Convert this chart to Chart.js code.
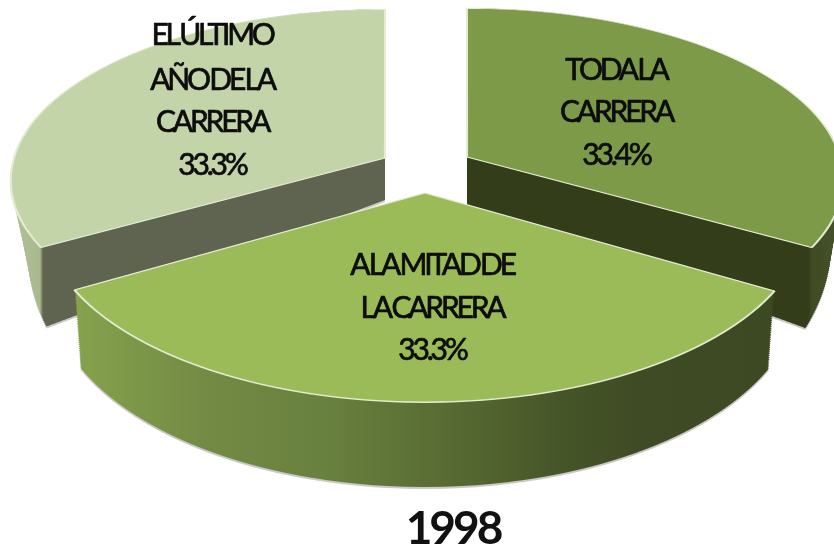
<!DOCTYPE html>
<html>
<head>
<meta charset="utf-8">
<script src="https://cdn.jsdelivr.net/npm/chart.js@4"></script>
<style>html,body{margin:0;padding:0;background:#fff}canvas{display:block}</style>
</head>
<body>
<canvas id="c" width="834" height="549"></canvas>
<script>
const CATEGORIES = ['TODA LA CARRERA', 'A LA MITAD DE LA CARRERA', 'EL ÚLTIMO AÑO DE LA CARRERA'];
const VALUES = [33.4, 33.3, 33.3];
const LABEL_LINES = [['TODA LA', 'CARRERA'], ['A LA MITAD DE', 'LA CARRERA'], ['EL ÚLTIMO', 'AÑO DE LA', 'CARRERA']];
const CHART_TITLE = '1998';
const FACE_COLORS = ['#7d9a49', '#9bbb59', '#c3d4a8'];

// Presentation only: perspective of each exploded slice (top face and floor of the 3D wedge)
const PLANES = [
  { top: { ox: 467, oy: 157, ax: 373, ay: 168, p: -0.13 }, floor: { ox: 467, oy: 205, ax: 359, ay: 224, p: -0.166 } },
  { top: { ox: 425, oy: 193, ax: 378, ay: 182, p: -0.13 }, floor: { ox: 425, oy: 264, ax: 372, ay: 194, p: -0.13 } },
  { top: { ox: 385, oy: 158, ax: 371, ay: 168, p: -0.13 }, floor: { ox: 385, oy: 200, ax: 349, ay: 227, p: -0.213 } }
];
const WALL_STOPS = [
  [[466, '#343d1a'], [809, '#343d1a'], [811, '#3f4a22'], [840, '#46522a']],
  [[70, '#87a34d'], [200, '#738b44'], [330, '#68803e'], [480, '#536530'], [560, '#465528'], [640, '#3f4b25'], [785, '#3d4923']],
  [[5, '#b4c39c'], [40, '#a9b98e'], [43, '#5f6450'], [390, '#5f6450']]
];
const LABEL_POS = [[616, [70, 112, 155]], [432, [265, 308, 350]], [212, [35, 80, 122, 165]]];
const DRAW_ORDER = [2, 0, 1];

const lerp = (a, b, s) => a + (b - a) * s;
function mixPlane(a, b, s) {
  const o = {};
  for (const k in a) o[k] = lerp(a[k], b[k], s);
  return o;
}
function drawPlane(ctx, el, plane, rowH, colorFor, opts) {
  const props = el.getProps(['x', 'y', 'outerRadius', 'startAngle', 'endAngle'], true);
  const cx = props.x, cy = props.y, r = props.outerRadius;
  let vMin = 0, vMax = 0;
  for (let i = 0; i <= 40; i++) {
    const s = Math.sin(lerp(props.startAngle, props.endAngle, i / 40));
    vMin = Math.min(vMin, s); vMax = Math.max(vMax, s);
  }
  const yOf = v => plane.oy + plane.ay * v / (1 + plane.p * v);
  const y0 = Math.floor(yOf(vMin)) - 2, y1 = Math.ceil(yOf(vMax)) + 2;
  const saved = el.options;
  for (let Y = y0; Y < y1; Y += rowH) {
    const Ym = Y + rowH / 2;
    const t = (Ym - plane.oy) / plane.ay;
    const v = t / (1 - plane.p * t);
    const w = 1 + plane.p * v;
    const dy = plane.ay / (w * w);
    const a = plane.ax / (r * w);
    ctx.save();
    ctx.beginPath();
    ctx.rect(0, Y, 834, rowH);
    ctx.clip();
    ctx.setTransform(a, 0, 0, dy / r, plane.ox - a * cx, Ym - dy * (v + cy / r));
    const o = Object.create(saved);
    o.backgroundColor = colorFor(ctx, sx => cx + (sx - plane.ox) / a);
    o.borderWidth = opts.borderWidth;
    o.borderColor = opts.borderColor;
    o.offset = 0;
    el.options = o;
    el.draw(ctx);
    ctx.restore();
  }
  el.options = saved;
}
function wallGradient(stops) {
  return (ctx, toLocal) => {
    const x0 = stops[0][0], x1 = stops[stops.length - 1][0];
    const g = ctx.createLinearGradient(toLocal(x0), 0, toLocal(x1), 0);
    stops.forEach(s => g.addColorStop((s[0] - x0) / (x1 - x0), s[1]));
    return g;
  };
}
const wedge3d = {
  id: 'wedge3d',
  beforeDatasetsDraw(chart) {
    const ctx = chart.ctx;
    const els = chart.getDatasetMeta(0).data;
    DRAW_ORDER.forEach(i => {
      const el = els[i], P = PLANES[i];
      const none = { borderWidth: 0, borderColor: 'transparent' };
      // soft contact shadow just below the wedge
      const sh = Object.assign({}, P.floor, { oy: P.floor.oy + 2 });
      drawPlane(ctx, el, sh, 2, () => '#c9c9c9', none);
      const wall = wallGradient(WALL_STOPS[i]);
      const N = 40;
      for (let k = 0; k <= N; k++) {
        drawPlane(ctx, el, mixPlane(P.top, P.floor, 1 - k / N), 2, wall, none);
      }
      drawPlane(ctx, el, P.top, 1, () => FACE_COLORS[i], { borderWidth: 1.6, borderColor: '#e4ecd2' });
    });
    return false;
  },
  afterDraw(chart) {
    const ctx = chart.ctx;
    ctx.save();
    ctx.fillStyle = '#0d0d0d';
    ctx.strokeStyle = '#0d0d0d';
    ctx.lineWidth = 0.7;
    ctx.lineJoin = 'round';
    ctx.textAlign = 'center';
    ctx.textBaseline = 'middle';
    ctx.font = '30px Lato';
    ctx.letterSpacing = '-3.2px';
    ctx.wordSpacing = '-3px';
    LABEL_LINES.forEach((lines, i) => {
      const all = lines.concat(VALUES[i].toFixed(1) + '%');
      all.forEach((s, j) => {
        ctx.fillText(s, LABEL_POS[i][0], LABEL_POS[i][1][j]);
        ctx.strokeText(s, LABEL_POS[i][0], LABEL_POS[i][1][j]);
      });
    });
    ctx.fillStyle = '#111';
    ctx.font = 'bold 46px Lato';
    ctx.letterSpacing = '-3px';
    ctx.wordSpacing = '0px';
    ctx.fillText(CHART_TITLE, 453, 529);
    ctx.restore();
  }
};
new Chart(document.getElementById('c'), {
  type: 'pie',
  data: {
    labels: CATEGORIES,
    datasets: [{ data: VALUES, backgroundColor: FACE_COLORS, borderWidth: 0, clip: false }]
  },
  options: {
    responsive: false,
    animation: false,
    rotation: 0,
    layout: { padding: 0 },
    plugins: { legend: { display: false }, tooltip: { enabled: false }, title: { display: false } }
  },
  plugins: [wedge3d]
});
</script>
</body>
</html>
